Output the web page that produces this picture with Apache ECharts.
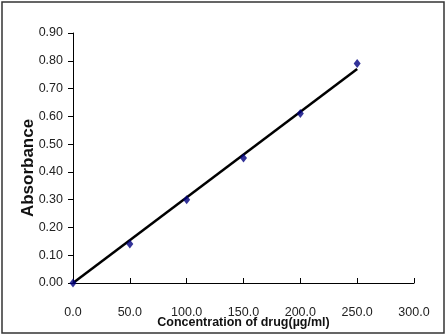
<!DOCTYPE html>
<html>
<head>
<meta charset="utf-8">
<script src="https://cdn.jsdelivr.net/npm/echarts@6/dist/echarts.min.js"></script>
<style>
  html, body { margin: 0; padding: 0; background: #fff; }
  #chart { width: 447px; height: 336px; }
</style>
</head>
<body>
<div id="chart"></div>
<script>
// concentration (µg/ml) vs absorbance
const concentration = [0, 50, 100, 150, 200, 250];
const absorbance = [0.0, 0.14, 0.30, 0.45, 0.61, 0.79];
// linear trend line ends
const trendX = [0, 250];
const trendY = [0.0, 0.77];

const font = '"Liberation Sans", Arial, sans-serif';

const chart = echarts.init(document.getElementById('chart'), null, { renderer: 'canvas' });

chart.setOption({
  animation: false,
  backgroundColor: '#fff',
  grid: { left: 73, right: 33, top: 33, bottom: 53, outerBoundsMode: 'none', containLabel: false },
  graphic: [
    {
      type: 'rect',
      shape: { x: 2, y: 2, width: 442, height: 331 },
      style: { fill: 'none', stroke: '#333', lineWidth: 1.5 },
      silent: true,
    },
  ],
  xAxis: {
    type: 'value',
    min: 0,
    max: 300,
    interval: 50,
    name: 'Concentration of drug(µg/ml)',
    nameLocation: 'middle',
    nameGap: 33,
    nameMoveOverlap: false,
    nameTextStyle: { fontFamily: font, fontWeight: 'bold', fontSize: 12.5, color: '#111' },
    axisLine: { show: true, lineStyle: { color: '#000', width: 1 } },
    axisTick: { show: true, inside: true, length: 5, lineStyle: { color: '#000' } },
    axisLabel: {
      margin: 23,
      fontFamily: font,
      fontSize: 12.5,
      color: '#222',
      formatter: (v) => v.toFixed(1),
    },
    splitLine: { show: false },
  },
  yAxis: {
    type: 'value',
    min: 0,
    max: 0.9,
    interval: 0.1,
    name: 'Absorbance',
    nameLocation: 'middle',
    nameGap: 36,
    nameMoveOverlap: false,
    nameTextStyle: {
      fontFamily: font,
      fontWeight: 'bold',
      fontSize: 17,
      color: '#111',
      padding: [0, 20, 0, 0],
    },
    axisLine: { show: true, lineStyle: { color: '#000', width: 1 } },
    axisTick: { show: true, length: 5, lineStyle: { color: '#000' } },
    axisLabel: {
      margin: 10,
      fontFamily: font,
      fontSize: 12.5,
      color: '#222',
      formatter: (v) => v.toFixed(2),
    },
    splitLine: { show: false },
  },
  series: [
    {
      name: 'Trend',
      type: 'line',
      data: trendX.map((x, i) => [x, trendY[i]]),
      symbol: 'none',
      lineStyle: { color: '#000', width: 2.5 },
      z: 2,
    },
    {
      name: 'Absorbance',
      type: 'scatter',
      data: concentration.map((x, i) => [x, absorbance[i]]),
      symbol: 'diamond',
      symbolSize: [7, 9],
      itemStyle: { color: '#000080' },
      z: 3,
    },
  ],
});
</script>
</body>
</html>
